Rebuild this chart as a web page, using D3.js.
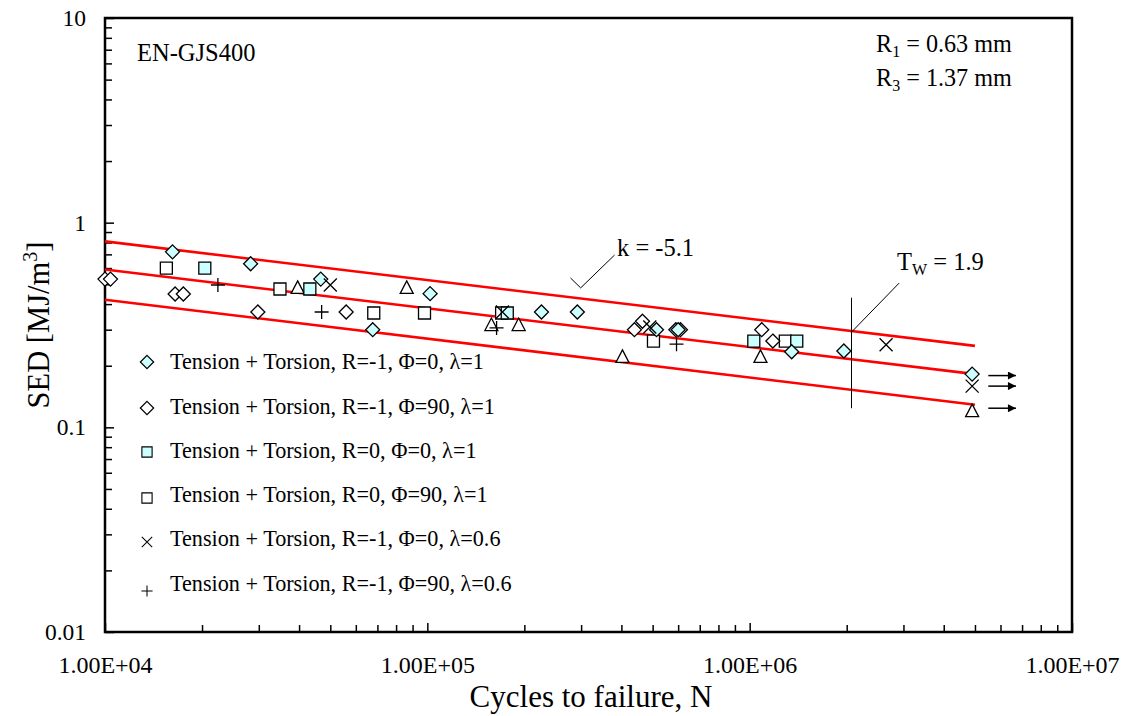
<!DOCTYPE html>
<html>
<head>
<meta charset="utf-8">
<script src="https://cdn.jsdelivr.net/npm/d3@7"></script>
<style>
  body { margin: 0; background: #fff; }
  svg { font-family: "Liberation Serif", "Times New Roman", serif; }
  .axis path { display: none; }
  .axis line { stroke: #000; stroke-width: 1.5; }
  .axis text { fill: #000; font-family: "Liberation Serif", serif; }
  .x-axis text { font-size: 24px; }
  .y-axis text { font-size: 23.5px; }
</style>
</head>
<body>
<div id="chart"></div>
<script>
// series data, [N, SED]
var cyanDiamonds = [[1.62e4, 0.72], [2.83e4, 0.63], [4.67e4, 0.53], [6.77e4, 0.30], [1.02e5, 0.45],
    [2.26e5, 0.366], [2.92e5, 0.366], [5.14e5, 0.30], [6.0e5, 0.30], [1.35e6, 0.234], [1.96e6, 0.236], [4.9e6, 0.182]];
var openDiamonds = [[1.0e4, 0.53], [1.04e4, 0.53], [1.65e4, 0.448], [1.75e4, 0.448], [2.98e4, 0.366], [5.6e4, 0.366],
    [4.39e5, 0.30], [4.65e5, 0.33], [5.9e5, 0.30], [6.1e5, 0.30], [1.09e6, 0.30], [1.18e6, 0.264]];
var cyanSquares = [[2.04e4, 0.60], [4.32e4, 0.474], [1.77e5, 0.362], [1.03e6, 0.264], [1.40e6, 0.264]];
var openSquares = [[1.55e4, 0.60], [3.49e4, 0.474], [6.82e4, 0.362], [9.8e4, 0.362], [1.70e5, 0.362],
    [5.03e5, 0.264], [1.29e6, 0.264]];
var crosses = [[5.0e4, 0.496], [1.71e5, 0.366], [4.9e5, 0.309], [2.65e6, 0.253], [4.9e6, 0.159]];
var pluses = [[2.24e4, 0.496], [4.7e4, 0.366], [1.64e5, 0.306], [5.93e5, 0.255]];
var triangles = [[3.96e4, 0.48], [8.63e4, 0.48], [1.58e5, 0.316], [1.92e5, 0.316], [4.03e5, 0.221],
    [1.08e6, 0.221], [4.9e6, 0.120]];

// scatter bands (mean and Tw limits), [N, SED] endpoints
var bandLines = [
    [[1e4, 0.81], [5e6, 0.25]],
    [[1e4, 0.59], [5e6, 0.182]],
    [[1e4, 0.42], [5e6, 0.129]]
];
// run-out arrows
var runoutSED = [0.179, 0.159, 0.124];
var runoutN = [5.5e6, 6.7e6];

// annotation guides
var twLine = [[2.07e6, 0.43], [2.07e6, 0.124]];
var twLeader = [[2.07e6, 0.292], [2.91e6, 0.507]];
var kLeader = [[2.78e5, 0.537], [2.99e5, 0.48], [3.81e5, 0.695]];

var legendLabels = [
    "Tension + Torsion, R=-1, Φ=0, λ=1",
    "Tension + Torsion, R=-1, Φ=90, λ=1",
    "Tension + Torsion, R=0, Φ=0, λ=1",
    "Tension + Torsion, R=0, Φ=90, λ=1",
    "Tension + Torsion, R=-1, Φ=0, λ=0.6",
    "Tension + Torsion, R=-1, Φ=90, λ=0.6"
];
var xTickLabels = ["1.00E+04", "1.00E+05", "1.00E+06", "1.00E+07"];
var yTickLabels = ["0.01", "0.1", "1", "10"];

var W = 1122, H = 716;
var plotL = 105, plotR = 1072, plotT = 18, plotB = 632;

var svg = d3.select("#chart").append("svg")
    .attr("width", W)
    .attr("height", H);

var x = d3.scaleLog().domain([1e4, 1e7]).range([plotL, plotR]);
var y = d3.scaleLog().domain([0.01, 10]).range([plotB, plotT]);

// minor ticks
var xMinor = [], yMinor = [];
[1e4, 1e5, 1e6].forEach(function(d) { for (var i = 2; i < 10; i++) xMinor.push(d * i); });
[0.01, 0.1, 1].forEach(function(d) { for (var i = 2; i < 10; i++) yMinor.push(d * i); });

svg.append("g").attr("class", "axis x-axis")
    .attr("transform", "translate(0," + plotB + ")")
    .call(d3.axisBottom(x).tickValues(xMinor).tickSize(-7).tickFormat(""));
svg.append("g").attr("class", "axis x-axis")
    .attr("transform", "translate(0," + plotB + ")")
    .call(d3.axisBottom(x).tickValues([1e4, 1e5, 1e6, 1e7]).tickSize(-9).tickPadding(24)
        .tickFormat(function(d, i) { return xTickLabels[i]; }));

svg.append("g").attr("class", "axis y-axis")
    .attr("transform", "translate(" + plotL + ",0)")
    .call(d3.axisLeft(y).tickValues(yMinor).tickSize(-7).tickFormat(""));
svg.append("g").attr("class", "axis y-axis")
    .attr("transform", "translate(" + plotL + ",0)")
    .call(d3.axisLeft(y).tickValues([0.01, 0.1, 1, 10]).tickSize(-9).tickPadding(19)
        .tickFormat(function(d, i) { return yTickLabels[i]; }));

// frame
svg.append("rect")
    .attr("x", plotL).attr("y", plotT)
    .attr("width", plotR - plotL).attr("height", plotB - plotT)
    .attr("fill", "none").attr("stroke", "#000").attr("stroke-width", 2.5);

var line = d3.line().x(function(d) { return x(d[0]); }).y(function(d) { return y(d[1]); });

svg.selectAll(".band").data(bandLines).enter().append("path")
    .attr("class", "band")
    .attr("d", line)
    .attr("fill", "none").attr("stroke", "#ff0000").attr("stroke-width", 2.6);

[twLine, twLeader, kLeader].forEach(function(l) {
    svg.append("path").attr("d", line(l))
        .attr("fill", "none").attr("stroke", "#000").attr("stroke-width", 1);
});

// marker shapes
function shapePath(type) {
    switch (type) {
        case "diamond": return "M0,-7L7,0L0,7L-7,0Z";
        case "square": return "M-6,-6H6V6H-6Z";
        case "triangle": return "M0,-7L6.5,5.5H-6.5Z";
        case "cross": return "M-6.5,-6.5L6.5,6.5M-6.5,6.5L6.5,-6.5";
        case "plus": return "M-7,0H7M0,-7V7";
    }
}

var series = [
    { data: triangles, type: "triangle", fill: "#fff" },
    { data: openSquares, type: "square", fill: "#fff" },
    { data: cyanSquares, type: "square", fill: "#ccffff" },
    { data: openDiamonds, type: "diamond", fill: "#fff" },
    { data: cyanDiamonds, type: "diamond", fill: "#ccffff" },
    { data: crosses, type: "cross", fill: "none" },
    { data: pluses, type: "plus", fill: "none" }
];

series.forEach(function(s) {
    svg.append("g").selectAll("path").data(s.data).enter().append("path")
        .attr("transform", function(d) { return "translate(" + x(d[0]) + "," + y(d[1]) + ")"; })
        .attr("d", shapePath(s.type))
        .attr("fill", s.fill)
        .attr("stroke", "#000")
        .attr("stroke-width", 1.3);
});

// run-out arrows
svg.append("defs").append("marker")
    .attr("id", "arrow").attr("viewBox", "0 0 10 10")
    .attr("refX", 10).attr("refY", 5)
    .attr("markerWidth", 10).attr("markerHeight", 8)
    .attr("markerUnits", "userSpaceOnUse")
    .attr("orient", "auto")
    .append("path").attr("d", "M0,0L10,5L0,10Z").attr("fill", "#000");

svg.selectAll(".runout").data(runoutSED).enter().append("line")
    .attr("class", "runout")
    .attr("x1", x(runoutN[0])).attr("x2", x(runoutN[1]))
    .attr("y1", function(d) { return y(d); }).attr("y2", function(d) { return y(d); })
    .attr("stroke", "#000").attr("stroke-width", 1.5)
    .attr("marker-end", "url(#arrow)");

// legend
var legendTypes = [
    { type: "diamond", fill: "#ccffff" },
    { type: "diamond", fill: "#fff" },
    { type: "square", fill: "#ccffff" },
    { type: "square", fill: "#fff" },
    { type: "cross", fill: "none" },
    { type: "plus", fill: "none" }
];
var legendRowY = [362, 407, 451, 495, 539, 584];
var legendMarkY = [362, 408, 452, 498, 542, 591];
var lg = svg.append("g");
legendLabels.forEach(function(t, i) {
    var lt = legendTypes[i];
    var scale = lt.type === "diamond" ? 0.95 : 0.85;
    if (lt.type === "cross" || lt.type === "plus") scale = 0.8;
    lg.append("path")
        .attr("transform", "translate(147," + legendMarkY[i] + ") scale(" + scale + ")")
        .attr("d", shapePath(lt.type))
        .attr("fill", lt.fill).attr("stroke", "#000").attr("stroke-width", 1.3);
    lg.append("text")
        .attr("x", 170).attr("y", legendRowY[i] + 7)
        .attr("font-size", 22.2)
        .text(t);
});

// text annotations
svg.append("text").attr("x", 137).attr("y", 61).attr("font-size", 24.5).text("EN-GJS400");

var r1 = svg.append("text").attr("x", 876).attr("y", 52).attr("font-size", 24.2);
r1.append("tspan").text("R");
r1.append("tspan").attr("font-size", 16).attr("dy", 5).text("1");
r1.append("tspan").attr("dy", -5).text(" = 0.63 mm");

var r3 = svg.append("text").attr("x", 876).attr("y", 86).attr("font-size", 24.2);
r3.append("tspan").text("R");
r3.append("tspan").attr("font-size", 16).attr("dy", 5).text("3");
r3.append("tspan").attr("dy", -5).text(" = 1.37 mm");

svg.append("text").attr("x", 617).attr("y", 256).attr("font-size", 24.5).text("k = -5.1");

var tw = svg.append("text").attr("x", 897).attr("y", 270).attr("font-size", 24.5);
tw.append("tspan").text("T");
tw.append("tspan").attr("font-size", 16).attr("dy", 5).text("W");
tw.append("tspan").attr("dy", -5).text(" = 1.9");

// axis titles
svg.append("text")
    .attr("x", 591).attr("y", 707)
    .attr("text-anchor", "middle").attr("font-size", 31)
    .text("Cycles to failure, N");

var yt = svg.append("text")
    .attr("transform", "translate(49," + ((plotT + plotB) / 2) + ") rotate(-90)")
    .attr("text-anchor", "middle").attr("font-size", 30.5);
yt.append("tspan").text("SED [MJ/m");
yt.append("tspan").attr("font-size", 20).attr("dy", -12).text("3");
yt.append("tspan").attr("dy", 12).text("]");
</script>
</body>
</html>
